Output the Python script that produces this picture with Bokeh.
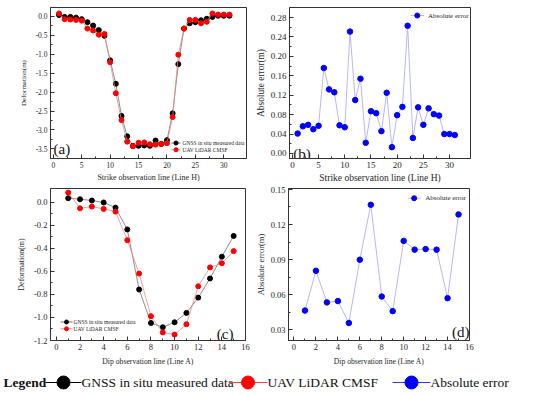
from bokeh.plotting import figure
from bokeh.layouts import column, row
from bokeh.models import Range1d, FixedTicker, PrintfTickFormatter
from bokeh.embed import file_html
from bokeh.resources import INLINE
from bokeh.core.properties import value

FONT = "Liberation Serif"

# ---------------- data ----------------
strike_x = list(range(1, 32))
strike_gnss = [0.04, -0.01, -0.01, -0.03, -0.07, -0.15, -0.24, -0.36, -0.51, -1.16,
               -1.78, -2.63, -3.17, -3.42, -3.42, -3.41, -3.42, -3.28, -3.37, -3.27,
               -2.56, -1.26, -0.32, -0.18, -0.15, -0.10, -0.06, -0.01, 0.02, 0.02, 0.02]
strike_uav = [0.08, -0.07, -0.08, -0.09, -0.11, -0.32, -0.37, -0.48, -0.46, -1.21,
              -2.03, -2.74, -3.31, -3.43, -3.34, -3.33, -3.38, -3.39, -3.37, -3.35,
              -2.66, -1.01, -0.32, -0.09, -0.09, -0.18, -0.14, 0.08, 0.05, 0.05, 0.05]
strike_abs = [0.041, 0.056, 0.059, 0.050, 0.057, 0.176, 0.132, 0.126, 0.058, 0.054,
              0.251, 0.110, 0.154, 0.022, 0.087, 0.083, 0.046, 0.125, 0.013, 0.079,
              0.096, 0.263, 0.032, 0.095, 0.059, 0.093, 0.081, 0.078, 0.040, 0.040, 0.038]

dip_x = list(range(1, 16))
dip_gnss = [0.034, 0.025, 0.014, -0.003, -0.048, -0.237, -0.758, -1.048, -1.085, -1.042,
            -0.961, -0.828, -0.662, -0.473, -0.293]
dip_uav = [0.082, -0.054, -0.039, -0.059, -0.082, -0.330, -0.620, -0.989, -1.130, -1.149,
           -1.059, -0.730, -0.566, -0.530, -0.425]
dip_abs = [0.0464, 0.0804, 0.0534, 0.0545, 0.0358, 0.0899, 0.1369, 0.0584, 0.0459, 0.1060,
           0.0985, 0.0990, 0.0985, 0.0570, 0.1286]

a_xticks = [0, 5, 10, 15, 20, 25, 30]
a_yticks = [0.0, -0.5, -1.0, -1.5, -2.0, -2.5, -3.0, -3.5]
b_yticks = [0.00, 0.04, 0.08, 0.12, 0.16, 0.20, 0.24, 0.28]
c_xticks = [0, 2, 4, 6, 8, 10, 12, 14, 16]
c_yticks = [0.0, -0.2, -0.4, -0.6, -0.8, -1.0, -1.2]
d_yticks = [0.03, 0.06, 0.09, 0.12, 0.15]

label_gnss = "GNSS in situ measured data"
label_uav = "UAV LiDAR CMSF"
label_abs = "Absolute error"
strike_title = "Strike observation line (Line H)"
dip_title = "Dip observation line (Line A)"

C_GNSS = "#000000"
C_UAV = "#ff0000"
C_ABS = "#0000ff"
L_GNSS = "#707070"
L_UAV = "#f08888"
L_ABS = "#b8b8ee"
TXT = "#262626"


class Panel:
    """figure + mapping from frame-relative pixel offsets to data (for decorations)."""

    def __init__(self, w, h, xr, yr, bl, br, bt, bb):
        self.xr, self.yr = xr, yr
        self.fw = w - bl - br
        self.fh = h - bt - bb
        p = figure(width=w, height=h, x_range=Range1d(*xr), y_range=Range1d(*yr),
                   output_backend="svg", toolbar_location=None,
                   min_border_left=bl, min_border_right=br,
                   min_border_top=bt, min_border_bottom=bb)
        p.grid.visible = False
        p.outline_line_color = "#333333"
        p.outline_line_width = 1
        p.background_fill_color = "white"
        p.border_fill_color = "white"
        self.p = p

    def dx(self, ox):
        return self.xr[0] + ox / self.fw * (self.xr[1] - self.xr[0])

    def dy(self, oy):
        return self.yr[1] - oy / self.fh * (self.yr[1] - self.yr[0])

    def legend(self, entries, ox0, ox1, oy0, row_step, font_size, msize, standoff):
        p = self.p
        for i, (lab, lc, mc) in enumerate(entries):
            yy = self.dy(oy0 + i * row_step)
            p.line([self.dx(ox0), self.dx(ox1)], [yy, yy], line_color=lc, line_width=1)
            p.scatter([self.dx((ox0 + ox1) / 2)], [yy], size=msize, color=mc)
            p.text(x=[self.dx(ox1 + standoff)], y=[yy], text=[lab], text_font=value(FONT),
                   text_font_size=font_size, text_baseline="middle", text_color=TXT)

    def label(self, ox, oy, txt, align):
        self.p.text(x=[self.dx(ox)], y=[self.dy(oy)], text=[txt], text_font=value(FONT),
                    text_font_size="15px", text_align=align, text_baseline="middle",
                    text_color="#111111")


def style_axes(p, xticks, yticks, xfmt, yfmt, tick_size, xlab, xlab_size, ylab, ylab_size,
               ylab_standoff, xlab_standoff=2):
    p.xaxis.ticker = FixedTicker(ticks=xticks, minor_ticks=[
        (xticks[i] + xticks[i + 1]) / 2 for i in range(len(xticks) - 1)])
    p.yaxis.ticker = FixedTicker(ticks=yticks, minor_ticks=[
        (yticks[i] + yticks[i + 1]) / 2 for i in range(len(yticks) - 1)])
    p.xaxis.formatter = PrintfTickFormatter(format=xfmt)
    p.yaxis.formatter = PrintfTickFormatter(format=yfmt)
    for ax in (p.xaxis, p.yaxis):
        ax.major_tick_in = 4
        ax.major_tick_out = 0
        ax.minor_tick_in = 2
        ax.minor_tick_out = 0
        ax.axis_line_color = "#333333"
        ax.major_tick_line_color = "#333333"
        ax.minor_tick_line_color = "#333333"
        ax.major_label_text_font = FONT
        ax.major_label_text_font_size = tick_size
        ax.major_label_text_color = TXT
        ax.axis_label_text_font = FONT
        ax.axis_label_text_font_style = "normal"
        ax.axis_label_text_color = TXT
        ax.major_label_standoff = 3
    p.xaxis.axis_label = xlab
    p.xaxis.axis_label_text_font_size = xlab_size
    p.xaxis.axis_label_standoff = xlab_standoff
    p.yaxis.axis_label = ylab
    p.yaxis.axis_label_text_font_size = ylab_size
    p.yaxis.axis_label_standoff = ylab_standoff


# ---------------- (a) ----------------
A = Panel(252, 186, (-0.5, 34), (-3.756, 0.238), 50, 6, 7, 23)
pa = A.p
pa.line(strike_x, strike_gnss, line_color=L_GNSS, line_width=0.8)
pa.scatter(strike_x, strike_gnss, size=5, color=C_GNSS)
pa.line(strike_x, strike_uav, line_color=L_UAV, line_width=0.8)
pa.scatter(strike_x, strike_uav, size=5, color=C_UAV)
style_axes(pa, a_xticks, a_yticks, "%d", "%.1f", "7.5px", strike_title, "8px",
           "Deformation(m)", "7px", 5)
A.legend([(label_gnss, L_GNSS, C_GNSS), (label_uav, L_UAV, C_UAV)],
         121, 130, 140, 7, "5.5px", 4, 2)
A.label(3, 146, "(a)", "left")

# ---------------- (b) ----------------
B = Panel(298, 186, (-0.55, 34), (-0.0103, 0.3006), 31, 80, 7, 28)
pb = B.p
pb.line(strike_x, strike_abs, line_color=L_ABS, line_width=1)
pb.scatter(strike_x, strike_abs, size=5.5, color=C_ABS)
style_axes(pb, a_xticks, b_yticks, "%d", "%.2f", "9px", strike_title, "9.5px",
           "Absolute error(m)", "9.4px", 2)
B.legend([(label_abs, L_ABS, C_ABS)], 125, 139, 8, 0, "7px", 5, 4)
B.label(4, 146, "(b)", "left")

# ---------------- (c) ----------------
Cc = Panel(252, 182, (-0.5, 16), (-1.2, 0.118), 50, 7, 2, 24)
pc = Cc.p
pc.line(dip_x, dip_gnss, line_color=L_GNSS, line_width=0.8)
pc.scatter(dip_x, dip_gnss, size=5, color=C_GNSS)
pc.line(dip_x, dip_uav, line_color=L_UAV, line_width=0.8)
pc.scatter(dip_x, dip_uav, size=5, color=C_UAV)
style_axes(pc, c_xticks, c_yticks, "%d", "%.1f", "8.5px", dip_title, "7.7px",
           "Deformation(m)", "8px", 5, 4)
Cc.legend([(label_gnss, L_GNSS, C_GNSS), (label_uav, L_UAV, C_UAV)],
          10, 22, 137, 7, "5.5px", 4, 1)
Cc.label(183, 149, "(c)", "right")

# ---------------- (d) ----------------
D = Panel(298, 182, (-0.5, 16), (0.0208, 0.1508), 29, 81, 2, 24)
pd_ = D.p
pd_.line(dip_x, dip_abs, line_color=L_ABS, line_width=1)
pd_.scatter(dip_x, dip_abs, size=5.5, color=C_ABS)
style_axes(pd_, c_xticks, d_yticks, "%d", "%.2f", "8.5px", dip_title, "7.6px",
           "Absolute error(m)", "8.5px", 2, 4)
D.legend([(label_abs, L_ABS, C_ABS)], 124, 137, 10, 0, "7px", 5, 5)
D.label(188, 147, "(d)", "right")

# ---------------- bottom legend ----------------
pl = figure(width=550, height=27, x_range=Range1d(0, 550), y_range=Range1d(0, 27),
            output_backend="svg", toolbar_location=None, x_axis_type=None, y_axis_type=None,
            min_border_left=0, min_border_right=0, min_border_top=0, min_border_bottom=0)
pl.grid.visible = False
pl.outline_line_color = None
ly = 13
pl.text(x=[3], y=[ly], text=["Legend"], text_font=value(FONT), text_font_size="13.5px",
        text_font_style="bold", text_baseline="middle", text_color="#111111")
for (x0, x1, xt, lc, mc, lab) in [
        (45, 81, 81, "#000000", C_GNSS, label_gnss),
        (228, 267, 267, "#ff4040", C_UAV, label_uav),
        (392, 430, 430, "#3030ff", C_ABS, label_abs)]:
    pl.line([x0, x1], [ly, ly], line_color=lc, line_width=1)
    pl.scatter([(x0 + x1) / 2], [ly], size=13, color=mc)
    pl.text(x=[xt], y=[ly], text=[lab], text_font=value(FONT), text_font_size="13.5px",
            text_baseline="middle", text_color="#111111")

layout = column(row(pa, pb), row(pc, pd_), pl)
open("out.html", "w").write(file_html(layout, INLINE))
